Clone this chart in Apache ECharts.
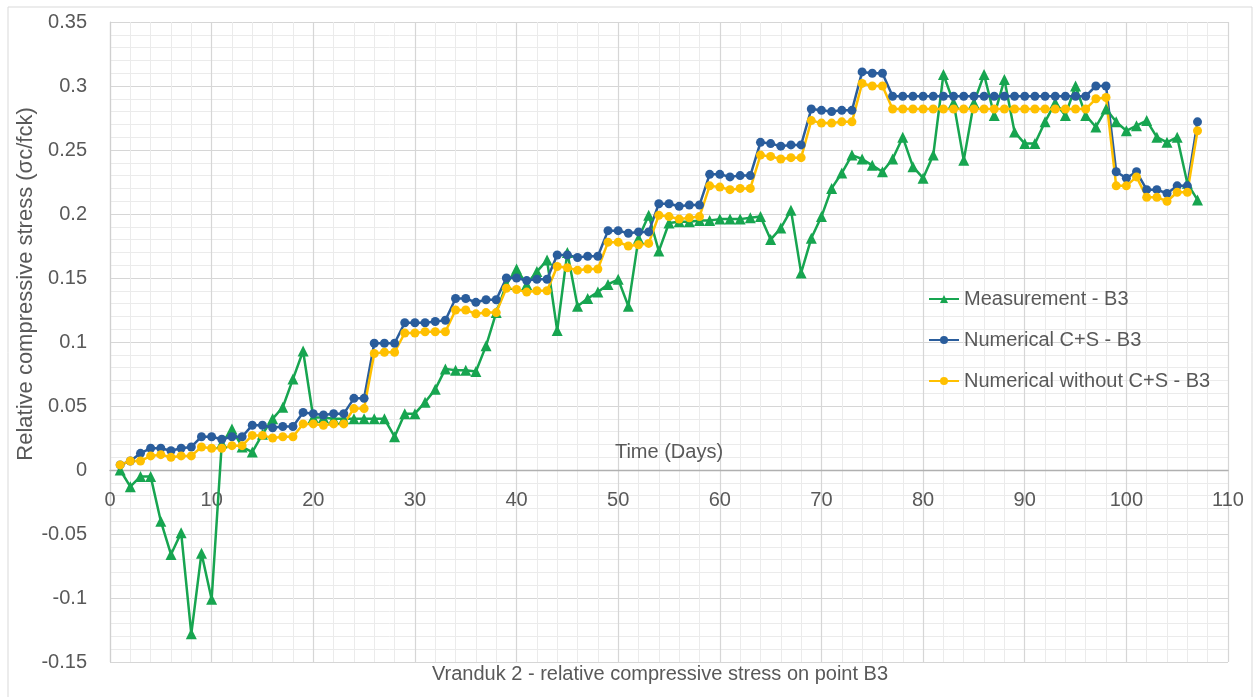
<!DOCTYPE html>
<html>
<head>
<meta charset="utf-8">
<script src="https://cdn.jsdelivr.net/npm/echarts@6/dist/echarts.min.js"></script>
<style>
  html, body { margin: 0; padding: 0; background: #ffffff; }
  #chart { width: 1258px; height: 697px; }
</style>
</head>
<body>
<div id="chart"></div>
<script>
// Day of each reading
const days = [
  1, 2, 3, 4, 5, 6, 7, 8, 9, 10,
  11, 12, 13, 14, 15, 16, 17, 18, 19, 20,
  21, 22, 23, 24, 25, 26, 27, 28, 29, 30,
  31, 32, 33, 34, 35, 36, 37, 38, 39, 40,
  41, 42, 43, 44, 45, 46, 47, 48, 49, 50,
  51, 52, 53, 54, 55, 56, 57, 58, 59, 60,
  61, 62, 63, 64, 65, 66, 67, 68, 69, 70,
  71, 72, 73, 74, 75, 76, 77, 78, 79, 80,
  81, 82, 83, 84, 85, 86, 87, 88, 89, 90,
  91, 92, 93, 94, 95, 96, 97, 98, 99, 100,
  101, 102, 103, 104, 105, 106, 107
];

// Measured relative compressive stress at point B3
const measurementB3 = [
  0.000, -0.013, -0.005, -0.005, -0.040, -0.066, -0.049, -0.128, -0.065, -0.101,
  0.021, 0.032, 0.018, 0.014, 0.028, 0.040, 0.049, 0.071, 0.093, 0.041,
  0.041, 0.040, 0.040, 0.040, 0.040, 0.040, 0.040, 0.026, 0.044, 0.044,
  0.053, 0.063, 0.079, 0.078, 0.078, 0.077, 0.097, 0.123, 0.145, 0.157,
  0.145, 0.155, 0.164, 0.109, 0.170, 0.128, 0.134, 0.139, 0.145, 0.149,
  0.128, 0.181, 0.199, 0.171, 0.193, 0.194, 0.194, 0.195, 0.195, 0.196,
  0.196, 0.196, 0.197, 0.198, 0.180, 0.189, 0.203, 0.154, 0.181, 0.198,
  0.220, 0.232, 0.246, 0.243, 0.238, 0.233, 0.243, 0.260, 0.237, 0.228,
  0.246, 0.309, 0.287, 0.242, 0.287, 0.309, 0.277, 0.305, 0.264, 0.255,
  0.255, 0.272, 0.287, 0.277, 0.300, 0.277, 0.268, 0.282, 0.272, 0.265,
  0.269, 0.273, 0.260, 0.256, 0.260, 0.224, 0.211
];

// Numerical model with creep and shrinkage
const numericalCS = [
  0.004, 0.007, 0.013, 0.017, 0.017, 0.015, 0.017, 0.018, 0.026, 0.026,
  0.024, 0.026, 0.026, 0.035, 0.035, 0.033, 0.034, 0.034, 0.045, 0.044,
  0.043, 0.044, 0.044, 0.056, 0.056, 0.099, 0.099, 0.099, 0.115, 0.115,
  0.115, 0.116, 0.117, 0.134, 0.134, 0.131, 0.133, 0.133, 0.150, 0.150,
  0.148, 0.149, 0.149, 0.168, 0.168, 0.166, 0.167, 0.167, 0.187, 0.187,
  0.185, 0.186, 0.186, 0.208, 0.208, 0.206, 0.207, 0.207, 0.231, 0.231,
  0.229, 0.230, 0.230, 0.256, 0.255, 0.253, 0.254, 0.254, 0.282, 0.281,
  0.280, 0.281, 0.281, 0.311, 0.310, 0.310, 0.292, 0.292, 0.292, 0.292,
  0.292, 0.292, 0.292, 0.292, 0.292, 0.292, 0.292, 0.292, 0.292, 0.292,
  0.292, 0.292, 0.292, 0.292, 0.292, 0.292, 0.300, 0.300, 0.233, 0.228,
  0.233, 0.219, 0.219, 0.216, 0.222, 0.222, 0.272
];

// Numerical model without creep and shrinkage
const numericalNoCS = [
  0.004, 0.007, 0.007, 0.011, 0.012, 0.010, 0.011, 0.011, 0.018, 0.017,
  0.017, 0.019, 0.019, 0.027, 0.027, 0.025, 0.026, 0.026, 0.036, 0.036,
  0.035, 0.036, 0.036, 0.048, 0.048, 0.091, 0.092, 0.092, 0.107, 0.107,
  0.108, 0.108, 0.108, 0.125, 0.125, 0.122, 0.123, 0.123, 0.142, 0.141,
  0.139, 0.140, 0.140, 0.159, 0.158, 0.156, 0.157, 0.157, 0.178, 0.178,
  0.175, 0.176, 0.177, 0.199, 0.198, 0.196, 0.197, 0.198, 0.222, 0.221,
  0.219, 0.220, 0.220, 0.246, 0.245, 0.243, 0.244, 0.244, 0.273, 0.271,
  0.271, 0.272, 0.272, 0.302, 0.300, 0.300, 0.282, 0.282, 0.282, 0.282,
  0.282, 0.282, 0.282, 0.282, 0.282, 0.282, 0.282, 0.282, 0.282, 0.282,
  0.282, 0.282, 0.282, 0.282, 0.282, 0.282, 0.290, 0.291, 0.222, 0.222,
  0.229, 0.213, 0.213, 0.210, 0.217, 0.217, 0.265
];

const seriesNames = ['Measurement - B3', 'Numerical C+S - B3', 'Numerical without C+S - B3'];
const seriesColors = ['#17a550', '#2a5d9c', '#ffc000'];

const xMin = 0, xMax = 110, xStep = 10;
const yMin = -0.15, yMax = 0.35, yStep = 0.05;

const textColor = '#595959';
const fontFamily = 'Liberation Sans, Arial, sans-serif';

// plot box inside the 1258x697 canvas
const gridBox = { left: 110, right: 30, top: 22, bottom: 35 };
const plotHeight = 697 - gridBox.top - gridBox.bottom;
// the time axis sits on the zero stress line
const xAxisOffset = -((0 - yMin) / (yMax - yMin)) * plotHeight;

function pairs(values) {
  return days.map((d, i) => [d, values[i]]);
}

const chart = echarts.init(document.getElementById('chart'), null, { renderer: 'canvas' });

chart.setOption({
  animation: false,
  backgroundColor: '#ffffff',
  textStyle: { fontFamily: fontFamily, color: textColor },
  grid: {
    left: gridBox.left, right: gridBox.right, top: gridBox.top, bottom: gridBox.bottom,
    containLabel: false,
    outerBoundsMode: 'none'
  },
  legend: {
    data: seriesNames,
    orient: 'vertical',
    left: 928,
    top: 289,
    padding: 0,
    itemWidth: 30,
    itemHeight: 10,
    itemGap: 21,
    textStyle: { fontSize: 20, color: textColor, fontFamily: fontFamily }
  },
  xAxis: {
    type: 'value',
    min: xMin,
    max: xMax,
    interval: xStep,
    position: 'bottom',
    offset: xAxisOffset,
    name: 'Time (Days)',
    nameLocation: 'middle',
    nameGap: -28,
    nameTextStyle: { fontSize: 20, color: textColor, fontFamily: fontFamily },
    axisLine: { show: true, onZero: false, lineStyle: { color: '#b0b0b0', width: 1.3 } },
    axisTick: { show: false },
    axisLabel: { fontSize: 20, color: textColor, margin: 20, fontFamily: fontFamily },
    splitLine: { show: true, lineStyle: { color: '#d6d6d6', width: 1.2 } },
    minorTick: { show: false, splitNumber: 5 },
    minorSplitLine: { show: true, lineStyle: { color: '#ebebeb', width: 1 } }
  },
  yAxis: {
    type: 'value',
    min: yMin,
    max: yMax,
    interval: yStep,
    axisLine: { show: true, lineStyle: { color: '#d0d0d0', width: 1.2 } },
    axisTick: { show: false },
    axisLabel: { fontSize: 20, color: textColor, margin: 23, fontFamily: fontFamily },
    splitLine: { show: true, lineStyle: { color: '#d6d6d6', width: 1.2 } },
    minorTick: { show: false, splitNumber: 5 },
    minorSplitLine: { show: true, lineStyle: { color: '#ebebeb', width: 1 } }
  },
  graphic: [
    {
      type: 'rect',
      silent: true,
      shape: { x: 8, y: 7, width: 1244, height: 700 },
      style: { fill: 'none', stroke: '#d9d9d9', lineWidth: 1 }
    },
    {
      // vertical axis title
      type: 'text',
      silent: true,
      x: 26,
      y: 284,
      rotation: Math.PI / 2,
      style: {
        text: 'Relative compressive stress (\u03c3c/fck)',
        fill: textColor,
        font: '22px ' + fontFamily,
        textAlign: 'center',
        textVerticalAlign: 'middle'
      }
    },
    {
      type: 'text',
      silent: true,
      x: 660,
      y: 674,
      style: {
        text: 'Vranduk 2 - relative compressive stress on point B3',
        fill: textColor,
        font: '20px ' + fontFamily,
        textAlign: 'center',
        textVerticalAlign: 'middle'
      }
    }
  ],
  series: [
    {
      name: seriesNames[0],
      type: 'line',
      data: pairs(measurementB3),
      symbol: 'triangle',
      symbolSize: 11,
      showAllSymbol: true,
      lineStyle: { color: seriesColors[0], width: 2.5 },
      itemStyle: { color: seriesColors[0] }
    },
    {
      name: seriesNames[1],
      type: 'line',
      data: pairs(numericalCS),
      symbol: 'circle',
      symbolSize: 9,
      showAllSymbol: true,
      lineStyle: { color: seriesColors[1], width: 2.5 },
      itemStyle: { color: seriesColors[1] }
    },
    {
      name: seriesNames[2],
      type: 'line',
      data: pairs(numericalNoCS),
      symbol: 'circle',
      symbolSize: 9,
      showAllSymbol: true,
      lineStyle: { color: seriesColors[2], width: 2.5 },
      itemStyle: { color: seriesColors[2] }
    }
  ]
});
</script>
</body>
</html>
